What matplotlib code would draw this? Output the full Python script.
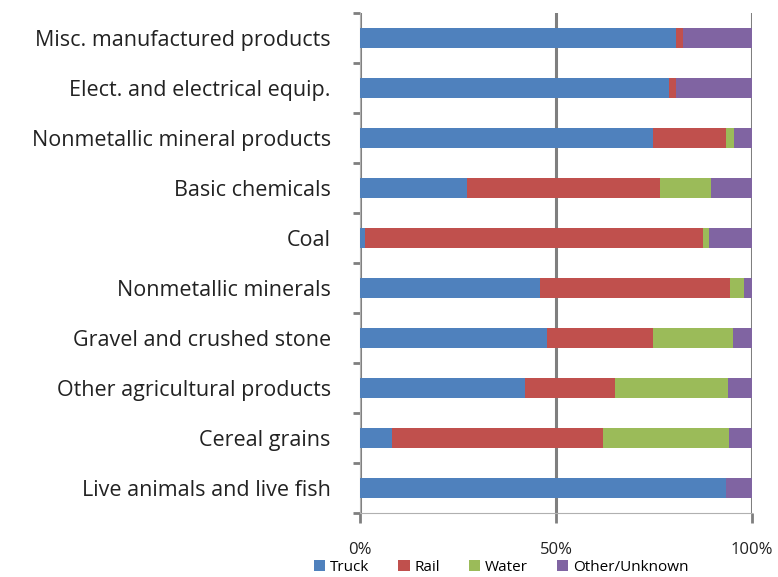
import matplotlib.pyplot as plt
import numpy as np

plt.rcParams['font.family'] = ['Open Sans', 'DejaVu Sans']

# categories, bottom to top
categories = ["Live animals and live fish", "Cereal grains", "Other agricultural products",
              "Gravel and crushed stone", "Nonmetallic minerals", "Coal", "Basic chemicals",
              "Nonmetallic mineral products", "Elect. and electrical equip.",
              "Misc. manufactured products"]

# shares in percent
truck = [93.3, 8.1, 42.1, 47.8, 45.9, 1.4, 27.4, 74.7, 78.9, 80.6]
rail = [0.0, 54.0, 23.0, 27.0, 48.5, 86.0, 49.1, 18.6, 1.6, 1.9]
water = [0.0, 32.1, 28.7, 20.4, 3.6, 1.7, 13.0, 2.2, 0.0, 0.0]
other = [6.7, 5.8, 6.2, 4.8, 2.0, 10.9, 10.5, 4.5, 19.5, 17.5]

series = ["Truck", "Rail", "Water", "Other/Unknown"]
colors = ["#4F81BD", "#C0504D", "#9BBB59", "#8064A2"]

fig = plt.figure(figsize=(7.78, 5.77), dpi=100)
ax = fig.add_axes([0.4627, 0.111, 0.504, 0.8665])

y = np.arange(len(categories))
left = np.zeros(len(categories))
for vals, name, col in zip([truck, rail, water, other], series, colors):
    ax.barh(y, vals, left=left, height=0.39, color=col, label=name, zorder=3)
    left += np.array(vals)

ax.set_xlim(0, 100)
ax.set_ylim(-0.5, len(categories) - 0.5)

# gridlines at 50% and 100%
ax.set_xticks([0, 50, 100])
ax.set_xticklabels(["0%", "50%", "100%"], fontsize=12, color="#222222")
ax.xaxis.grid(True, color="#7f7f7f", linewidth=2.2, zorder=1)
ax.tick_params(axis="x", length=7, width=2, color="#7f7f7f", pad=14)

ax.set_yticks(y)
ax.set_yticklabels(categories, fontsize=15.5, color="#222222")
ax.set_yticks(np.arange(-0.5, len(categories)), minor=True)
ax.tick_params(axis="y", which="major", length=0, pad=21)
ax.tick_params(axis="y", which="minor", length=5, width=2, color="#7f7f7f")

for s in ["top", "right"]:
    ax.spines[s].set_visible(False)
ax.spines["left"].set_color("#b0b0b0")
ax.spines["bottom"].set_color("#b0b0b0")

ax.legend(loc="upper center", bbox_to_anchor=(0.36, -0.094), ncol=4, frameon=False,
          fontsize=11, handlelength=0.75, handleheight=0.75, handletextpad=0.3,
          columnspacing=1.9, borderaxespad=0, borderpad=0)

fig.savefig("out.png", dpi=100)
